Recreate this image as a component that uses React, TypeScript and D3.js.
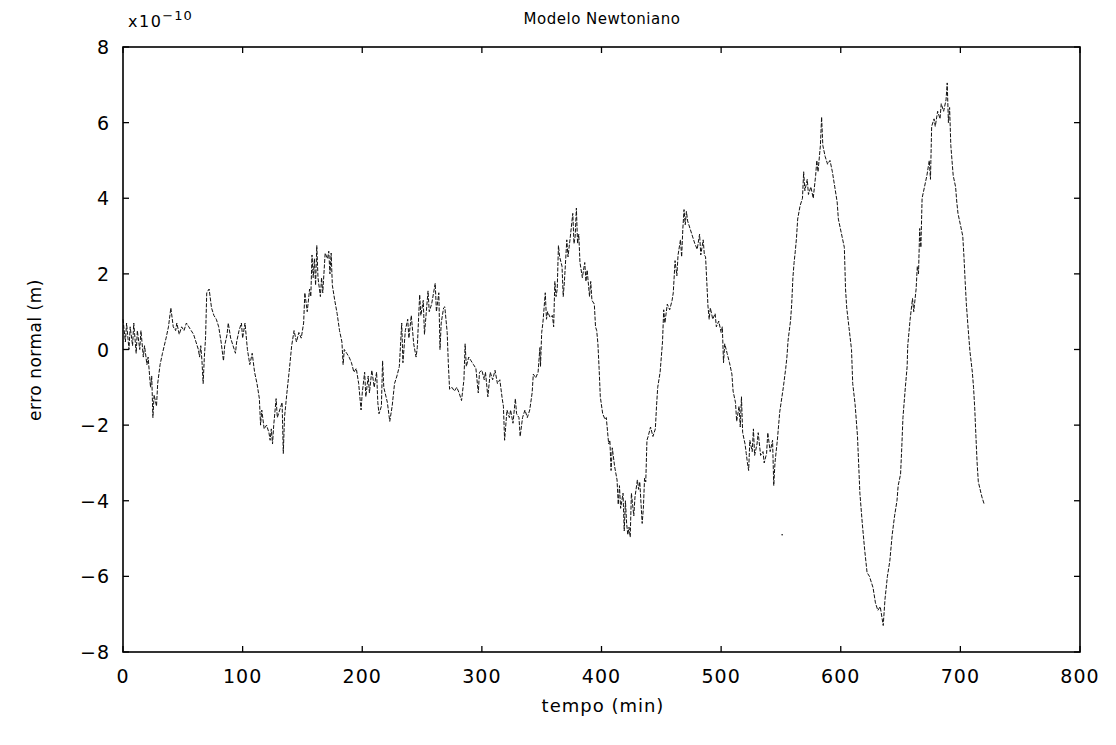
import React from "react";
import * as d3 from "d3";

const timeMin: number[] = [
  0, 2, 3, 5, 6, 8, 9, 11, 12, 14, 15, 17, 18, 20, 21, 23, 24, 25, 26, 28, 29, 31, 33, 36, 38, 40, 42, 44, 45, 47, 49, 51, 53, 55, 57, 59, 61, 63, 64, 65, 66, 67, 68, 69, 70, 72, 74, 76, 78, 80, 82, 84, 85, 87, 88, 90, 92, 94, 95, 97, 99, 100, 102, 104, 106, 108, 110, 112, 114, 115, 116, 118, 120, 122, 123, 124, 125, 126, 128, 129, 131, 133, 134, 135, 137, 139, 141, 143, 145, 147, 149, 151, 152, 154, 156, 157, 158, 159, 160, 161, 162, 163, 165, 166, 167, 169, 171, 172, 173, 174, 175, 177, 179, 181, 183, 184, 185, 187, 189, 191, 193, 195, 197, 199,
  200, 202, 203, 205, 206, 208, 210, 212, 213, 214, 216, 217, 218, 221, 223, 225, 227, 229, 231, 233, 234, 236, 238, 239, 241, 243, 245, 246, 248, 249, 251, 252, 255, 256, 258, 261, 262, 264, 265, 266, 268, 269, 271, 272, 273, 275, 277, 279, 281, 283, 285, 286, 287, 289, 291, 293, 295, 297, 298,
  300, 302, 303, 305, 307, 309, 311, 313, 315, 317, 318, 319, 321, 323, 324, 326, 328, 329, 331, 332, 334, 336, 338, 340, 342, 343, 345, 347, 348.5, 349, 350, 351, 353, 354, 355, 357, 359, 360, 361, 362, 363, 364, 365, 367, 368, 369, 371, 372, 374, 376, 377, 378, 379, 380, 381, 382, 384, 386, 387, 388, 390, 391, 392, 394, 395, 396, 397, 398, 399,
  401, 403, 404, 406, 407, 408, 409, 411, 413, 414, 415, 416, 418, 419, 420, 421, 422, 423, 424, 425, 427, 428, 430, 431, 432, 434, 435, 436, 437, 438, 439, 441, 443, 445, 446, 447, 449, 450, 451, 452, 453, 455, 457, 459, 460, 461.5, 463, 464, 466, 467, 468, 469, 470, 471, 472, 474, 476, 478, 480, 482, 483, 485, 486, 487, 488, 489, 490, 491, 493, 495, 496, 498,
  500, 501, 502, 503, 505, 507, 509, 510, 512, 513, 515, 516, 517, 518, 520, 521, 522, 523, 524, 526, 527, 528, 530, 531, 533, 535, 536, 538, 539, 541, 543, 544, 545, 547, 549, 552, 554, 555, 556, 558, 559, 560, 561, 562, 563, 564, 566, 568, 569, 570, 572, 573, 575, 577, 579, 580, 581, 583, 584, 585, 587, 589, 591, 593, 595, 597, 598,
  601, 603, 604, 605, 607, 609, 610, 612, 614, 616, 618, 620, 622, 624, 627, 629, 631, 633, 635.5, 637, 639, 641, 643, 645, 647, 648, 650, 651, 652, 654, 655.5, 656, 658, 660, 661, 663, 664, 665, 666, 667, 668, 670, 672, 674, 675, 676, 678, 679, 681, 683, 684, 686, 688, 689, 690, 691, 692, 693, 694, 696, 697, 698,
  700, 702, 703, 704, 705, 706.5, 708, 710, 711, 712, 713, 714, 715, 718, 720,
];

const normalError: number[] = [
  0.8, 0.2, 0.7, 0.0, 0.6, 0.1, 0.7, -0.1, 0.5, 0.0, 0.5, -0.2, 0.1, -0.4, -0.2, -1.0, -0.7, -1.8, -1.2, -1.5, -0.9, -0.4, -0.1, 0.3, 0.6, 1.1, 0.6, 0.5, 0.7, 0.4, 0.6, 0.5, 0.7, 0.6, 0.5, 0.4, 0.2, 0.0, -0.2, 0.1, -0.3, -0.9, -0.2, 0.3, 1.5, 1.6, 1.1, 0.9, 0.8, 0.6, 0.2, -0.3, 0.1, 0.4, 0.7, 0.3, 0.1, -0.1, 0.2, 0.5, 0.7, 0.3, 0.7, 0.0, -0.4, -0.1, -0.6, -0.9, -1.3, -2.0, -1.6, -2.1, -2.0, -2.2, -2.4, -2.1, -2.5, -2.0, -1.3, -1.8, -1.6, -1.4, -2.75, -1.8, -1.15, -0.55, 0.1, 0.5, 0.2, 0.45, 0.3, 0.7, 1.5, 1.0, 1.6, 1.4, 2.5, 1.9, 2.4, 1.7, 2.75, 1.9, 1.4, 1.9, 1.5, 2.55, 2.4, 2.6, 2.0, 2.55, 1.7, 1.3, 0.95, 0.5, 0.2, -0.4, 0.0, -0.1, -0.2, -0.35, -0.6, -0.5, -0.9, -1.6,
  -1.15, -0.6, -1.25, -0.7, -1.15, -0.55, -1.0, -0.6, -1.4, -1.7, -1.5, -0.3, -1.0, -1.4, -1.9, -1.5, -0.9, -0.7, -0.45, 0.7, -0.35, 0.5, 0.8, 0.3, 0.9, 0.15, -0.2, 0.05, 1.45, 0.9, 1.3, 0.4, 1.55, 1.0, 1.2, 1.75, 1.0, 1.5, 0.0, 0.7, 1.1, 1.13, 0.45, -0.4, -1.05, -1.0, -1.1, -1.0, -1.15, -1.35, -0.8, 0.15, -0.45, -0.2, -0.3, -0.4, -0.5, -1.15, -0.6,
  -0.55, -0.8, -0.6, -1.25, -0.6, -0.8, -0.55, -0.9, -0.8, -1.3, -1.5, -2.4, -1.6, -1.8, -1.6, -1.95, -1.3, -1.7, -1.8, -2.3, -1.8, -1.6, -1.8, -1.6, -1.15, -0.65, -0.75, -0.6, 0.05, -0.45, 0.45, 0.7, 1.5, 0.8, 1.0, 0.85, 0.9, 0.6, 1.8, 1.4, 1.6, 2.75, 2.45, 2.2, 1.4, 1.8, 2.9, 2.45, 3.0, 3.6, 2.8, 3.0, 3.74, 2.8, 3.05, 2.3, 1.9, 2.3, 1.8, 2.1, 1.4, 1.8, 1.3, 1.2, 0.6, 0.5, 0.15, -0.5, -1.25,
  -1.7, -1.85, -1.8, -2.5, -2.4, -3.2, -2.6, -3.1, -3.45, -4.1, -3.6, -4.2, -3.8, -4.8, -4.0, -4.6, -4.9, -4.7, -4.96, -3.8, -4.4, -3.9, -3.45, -3.7, -3.5, -4.6, -4.2, -3.4, -3.5, -2.4, -2.3, -2.05, -2.3, -2.1, -1.5, -1.0, -0.6, -0.2, 0.2, 1.05, 0.7, 1.2, 1.05, 1.3, 1.5, 2.35, 1.95, 2.5, 2.9, 2.45, 3.2, 3.7, 3.3, 3.65, 3.4, 3.2, 3.0, 2.8, 2.65, 3.05, 2.5, 2.9, 2.5, 2.45, 1.8, 1.15, 0.8, 1.1, 0.8, 0.95, 0.6, 0.75,
  0.45, 0.6, -0.35, 0.15, -0.1, -0.35, -0.65, -1.1, -1.4, -1.9, -1.5, -2.05, -1.25, -2.2, -2.5, -2.75, -3.0, -3.2, -2.4, -2.7, -2.1, -2.8, -2.5, -2.2, -2.8, -2.7, -3.0, -2.75, -2.2, -2.7, -2.4, -3.6, -3.0, -2.4, -1.65, -1.0, -0.5, -0.2, 0.25, 0.75, 1.2, 1.9, 2.3, 2.6, 2.95, 3.45, 3.8, 4.0, 4.7, 4.2, 4.5, 4.1, 4.3, 4.0, 4.6, 5.0, 4.7, 5.4, 6.15, 5.4, 5.1, 4.9, 5.0, 4.7, 4.3, 3.9, 3.45,
  3.0, 2.7, 1.6, 1.1, 0.55, 0.0, -0.9, -1.45, -2.3, -3.8, -4.6, -5.3, -5.9, -6.0, -6.3, -6.7, -6.9, -6.8, -7.3, -6.6, -6.0, -5.6, -4.9, -4.4, -4.0, -3.6, -3.3, -2.6, -1.8, -1.0, -0.45, 0.1, 0.8, 1.35, 1.0, 1.6, 2.2, 2.0, 3.2, 2.7, 4.0, 4.3, 4.6, 5.0, 4.5, 5.9, 6.1, 5.9, 6.3, 6.1, 6.5, 6.3, 6.6, 7.05, 6.0, 6.4, 5.4, 5.0, 4.6, 4.3, 3.9, 3.6,
  3.3, 3.0, 2.45, 1.8, 1.2, 0.55, -0.05, -0.6, -1.0, -1.55, -2.3, -3.0, -3.5, -3.9, -4.1,
];

const outlierTime: number[] = [551];
const outlierError: number[] = [-4.9];

const xTicks: number[] = [0, 100, 200, 300, 400, 500, 600, 700, 800];
const yTicks: number[] = [-8, -6, -4, -2, 0, 2, 4, 6, 8];

const W = 1116;
const H = 745;
const L = 123;
const R = 1080;
const T = 47;
const B = 652;
const FONT = "'DejaVu Sans', sans-serif";

export default function App() {
  const x = d3.scaleLinear().domain([0, 800]).range([L, R]);
  const y = d3.scaleLinear().domain([-8, 8]).range([B, T]);
  const pts = timeMin.map((t, i) => [t, normalError[i]] as [number, number]);
  const line = d3
    .line<[number, number]>()
    .x((d) => x(d[0]))
    .y((d) => y(d[1]));
  const tick = 6;
  return (
    <svg
      width={W}
      height={H}
      style={{ position: "absolute", left: 0, top: 0, background: "#fff" }}
      fontFamily={FONT}
    >
      <path
        d={line(pts) || ""}
        fill="none"
        stroke="#111"
        strokeWidth={1}
        strokeDasharray="4 1.5"
      />
      {outlierTime.map((t, i) => (
        <circle key={i} cx={x(t)} cy={y(outlierError[i])} r={0.8} fill="#111" />
      ))}
      <rect x={L} y={T} width={R - L} height={B - T} fill="none" stroke="#000" strokeWidth={1.6} />
      {xTicks.map((t) => (
        <g key={"x" + t}>
          <line x1={x(t)} x2={x(t)} y1={B} y2={B - tick} stroke="#000" strokeWidth={1.3} />
          <line x1={x(t)} x2={x(t)} y1={T} y2={T + tick} stroke="#000" strokeWidth={1.3} />
          <text x={x(t)} y={683} textAnchor="middle" fontSize={19} letterSpacing={1} fill="#000">
            {t}
          </text>
        </g>
      ))}
      {yTicks.map((t) => (
        <g key={"y" + t}>
          <line x1={L} x2={L + tick} y1={y(t)} y2={y(t)} stroke="#000" strokeWidth={1.3} />
          <line x1={R} x2={R - tick} y1={y(t)} y2={y(t)} stroke="#000" strokeWidth={1.3} />
          <text x={110} y={y(t) + 7} textAnchor="end" fontSize={19} letterSpacing={1} fill="#000">
            {t < 0 ? "\u2212" + Math.abs(t) : t}
          </text>
        </g>
      ))}
      <text x={128} y={27} fontSize={16} letterSpacing={1.5} fill="#000">
        x10
        <tspan dy={-7} fontSize={13} letterSpacing={1}>
          −10
        </tspan>
      </text>
      <text x={602} y={24} textAnchor="middle" fontSize={15} letterSpacing={0.5} fill="#000">
        Modelo Newtoniano
      </text>
      <text x={603} y={712} textAnchor="middle" fontSize={18} letterSpacing={1} fill="#000">
        tempo (min)
      </text>
      <text
        transform={`translate(41, 350) rotate(-90)`}
        textAnchor="middle"
        fontSize={17}
        letterSpacing={0.5}
        fill="#000"
      >
        erro normal (m)
      </text>
    </svg>
  );
}
